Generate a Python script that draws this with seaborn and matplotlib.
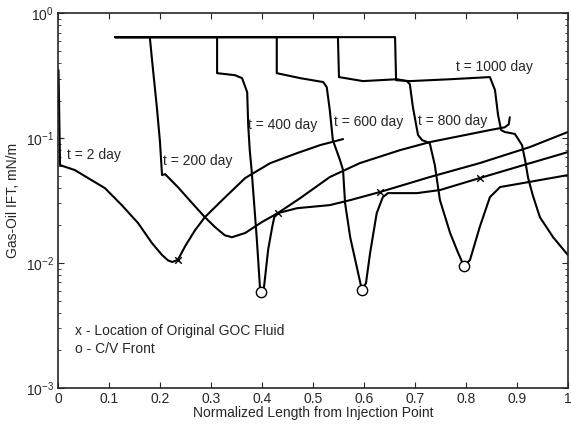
import numpy as np
import pandas as pd
import matplotlib
matplotlib.use("Agg")
import matplotlib.pyplot as plt
import seaborn as sns

# IFT profiles (normalized length, IFT in mN/m)
t2_x = [0.001, 0.004, 0.033, 0.059, 0.092, 0.125, 0.157, 0.184, 0.204, 0.216, 0.224, 0.235, 0.250, 0.269, 0.288, 0.322,
        0.367, 0.416, 0.469, 0.514, 0.559]
t2_y = [0.35, 0.0608, 0.0555, 0.0479, 0.0398, 0.0291, 0.0209, 0.0145, 0.0116, 0.0105, 0.0102, 0.0106, 0.0138, 0.0184, 0.0233, 0.0319,
        0.0479, 0.063, 0.0759, 0.0879, 0.0982]

t200_x = [0.112, 0.180, 0.186, 0.194, 0.200, 0.204, 0.210, 0.235, 0.263, 0.288, 0.308, 0.327, 0.341, 0.367, 0.376,
          0.400, 0.431, 0.475, 0.533, 0.592, 0.671, 0.729, 0.788, 0.847, 0.876, 0.884, 0.886]
t200_y = [0.643, 0.643, 0.363, 0.174, 0.0929, 0.0506, 0.0515, 0.0406, 0.0302, 0.0233, 0.0194, 0.0167, 0.0161, 0.0174, 0.0184,
          0.0213, 0.0251, 0.0331, 0.0488, 0.0631, 0.0802, 0.0929, 0.1038, 0.116, 0.122, 0.129, 0.147]

t400_x = [0.112, 0.312, 0.312, 0.347, 0.361, 0.371, 0.373, 0.376, 0.380, 0.390, 0.396, 0.398, 0.404, 0.412, 0.420, 0.425,
          0.431, 0.469, 0.533, 0.573, 0.631, 0.729, 0.827, 0.925, 1.0]
t400_y = [0.643, 0.643, 0.331, 0.319, 0.302, 0.233, 0.127, 0.0802, 0.0535, 0.0153, 0.00643, 0.00586, 0.00643, 0.0127, 0.0194, 0.0242,
          0.0251, 0.0275, 0.0291, 0.0319, 0.0370, 0.0488, 0.0631, 0.0847, 0.112]

t600_x = [0.112, 0.429, 0.429, 0.475, 0.520, 0.527, 0.533, 0.539, 0.553, 0.559, 0.563, 0.573, 0.586, 0.596, 0.604, 0.612,
          0.625, 0.637, 0.647, 0.704, 0.749, 0.788, 0.827, 0.906, 1.0]
t600_y = [0.643, 0.643, 0.331, 0.302, 0.281, 0.256, 0.1675, 0.0964, 0.0667, 0.0555, 0.0302, 0.0161, 0.00929, 0.00608, 0.00692, 0.0120,
          0.0251, 0.0337, 0.0363, 0.0363, 0.0384, 0.0429, 0.0479, 0.0597, 0.0773]

t800_x = [0.112, 0.549, 0.551, 0.598, 0.665, 0.684, 0.690, 0.696, 0.706, 0.714, 0.729, 0.739, 0.749, 0.769, 0.784, 0.796,
          0.808, 0.827, 0.847, 0.867, 0.912, 1.0]
t800_y = [0.643, 0.643, 0.308, 0.286, 0.296, 0.286, 0.270, 0.177, 0.106, 0.0964, 0.0912, 0.0608, 0.0319, 0.0174, 0.01225, 0.00946,
          0.0106, 0.0194, 0.0337, 0.0406, 0.0437, 0.0506]

t1000_x = [0.112, 0.661, 0.663, 0.690, 0.769, 0.847, 0.857, 0.863, 0.869, 0.876, 0.896, 0.910, 0.916, 0.922, 0.931, 0.945, 0.971, 1.0]
t1000_y = [0.643, 0.643, 0.291, 0.286, 0.296, 0.308, 0.242, 0.153, 0.116, 0.112, 0.108, 0.0879, 0.0667, 0.0479, 0.0350, 0.0233, 0.0161, 0.0116]

# x: original GOC fluid, o: C/V front
goc_x = [0.235, 0.431, 0.631, 0.827]
goc_y = [0.0106, 0.0251, 0.0370, 0.0479]
cv_x = [0.398, 0.596, 0.796]
cv_y = [0.00586, 0.00608, 0.00946]

curve_labels = ["t = 2 day", "t = 200 day", "t = 400 day", "t = 600 day", "t = 800 day", "t = 1000 day"]
label_x = [0.018, 0.206, 0.373, 0.541, 0.706, 0.780]
label_y = [0.073, 0.0655, 0.127, 0.134, 0.137, 0.37]

sns.set_style("ticks")
plt.rcParams["font.family"] = ["Liberation Sans", "DejaVu Sans"]
plt.rcParams["xtick.direction"] = "in"
plt.rcParams["ytick.direction"] = "in"
plt.rcParams["xtick.top"] = True
plt.rcParams["ytick.right"] = True

fig = plt.figure(figsize=(5.71, 4.25), dpi=100)
ax = fig.add_axes([0.1016, 0.087, 0.893, 0.882])

curves = [(t2_x, t2_y), (t200_x, t200_y), (t400_x, t400_y), (t600_x, t600_y), (t800_x, t800_y), (t1000_x, t1000_y)]
for cx, cy in curves:
	sns.lineplot(x=cx, y=cy, ax=ax, color="black", lw=1.5, estimator=None, sort=False)

sns.scatterplot(x=goc_x, y=goc_y, ax=ax, marker="x", color="black", s=22, linewidth=1.0, zorder=5)
sns.scatterplot(x=cv_x, y=cv_y, ax=ax, marker="o", facecolor="white", edgecolor="black", s=55, linewidth=1.0, zorder=5)

for txt, lx, ly in zip(curve_labels, label_x, label_y):
	ax.text(lx, ly, txt, fontsize=10, va="center", ha="left")

ax.text(0.033, 0.00286, "x - Location of Original GOC Fluid", fontsize=10, va="center")
ax.text(0.033, 0.00205, "o - C/V Front", fontsize=10, va="center")

ax.set_yscale("log")
ax.set_xlim(0, 1)
ax.set_ylim(1e-3, 1)
ax.set_xticks(np.arange(0, 1.01, 0.1))
ax.set_xticklabels(["0", "0.1", "0.2", "0.3", "0.4", "0.5", "0.6", "0.7", "0.8", "0.9", "1"])
ax.tick_params(labelsize=10, length=4, width=0.8, pad=3)
ax.tick_params(which="minor", length=2.5, width=0.6)
ax.set_xlabel("Normalized Length from Injection Point", fontsize=10, labelpad=0)
ax.set_ylabel("Gas-Oil IFT, mN/m", fontsize=10, labelpad=4)
for sp in ax.spines.values():
	sp.set_linewidth(1.2)

fig.savefig("out.png", dpi=100)
